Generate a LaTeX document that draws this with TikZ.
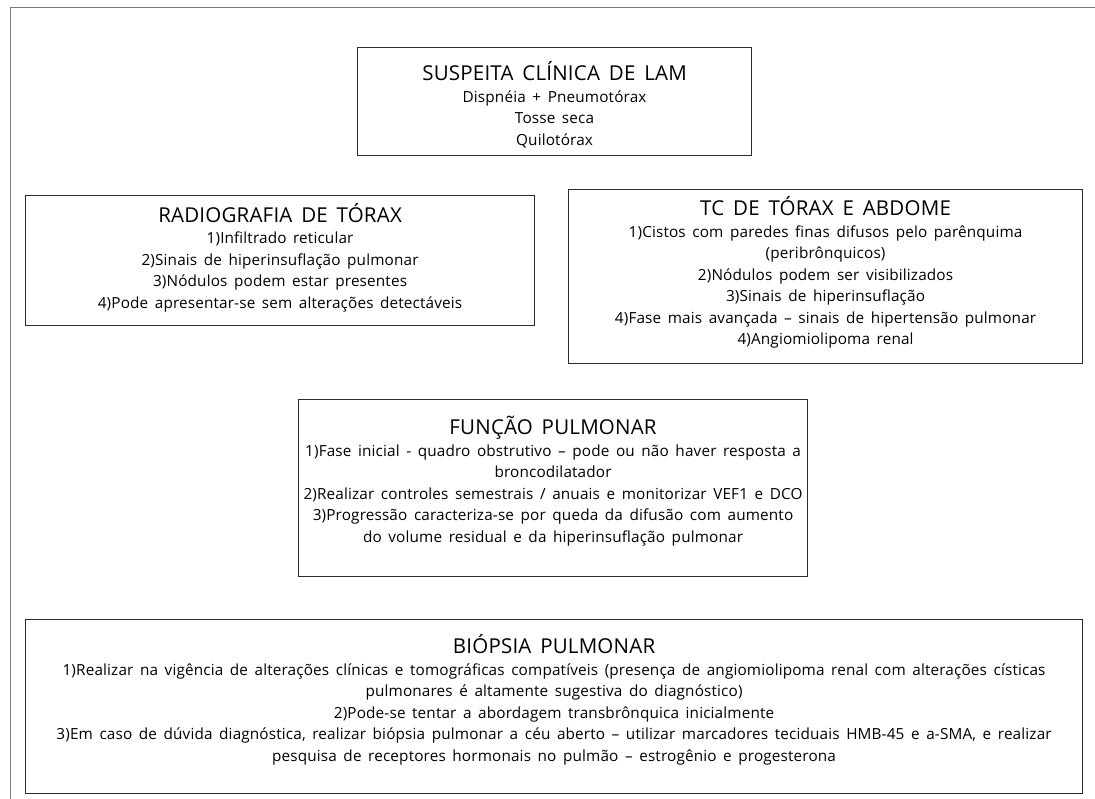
\documentclass[tikz,border=0pt]{standalone}
\usepackage{fontspec}
\setmainfont{Open Sans}[WordSpace=1.6, LetterSpace=1]
\usetikzlibrary{positioning}
\definecolor{FrameGray}{RGB}{125,125,125}
\definecolor{BoxGray}{RGB}{45,45,45}

\newcommand{\boxhead}[1]{{\fontsize{20.5}{24}\selectfont #1}}

\begin{document}
\begin{tikzpicture}[x=1pt, y=-1pt,
    boxframe/.style={draw=BoxGray, line width=1.1pt, anchor=north west, inner sep=0pt},
    boxtext/.style={align=center, inner sep=0pt, font=\fontsize{15.3}{21.5}\selectfont}]
    % Page size
    \useasboundingbox (0,0) rectangle (1095,799);

    % Page frame (left and top only)
    \draw[FrameGray, line width=1pt] (10,799) -- (10,8) -- (1095,8);

    % Frames of the five boxes
    \node[boxframe, minimum width=394, minimum height=108] (suspeita) at (357,47) {};
    \node[boxframe, minimum width=509, minimum height=130] (radiografia) at (25,195) {};
    \node[boxframe, minimum width=514, minimum height=174] (tomografia) at (568,189) {};
    \node[boxframe, minimum width=509, minimum height=177] (funcao) at (298,399) {};
    \node[boxframe, minimum width=1057, minimum height=174] (biopsia) at (25,619) {};

    % Clinical suspicion
    \node[boxtext, yshift=-3pt] (suspeita text) at (suspeita.center)
        {\boxhead{SUSPEITA CLÍNICA DE LAM}\\
         Dispnéia + Pneumotórax\\
         Tosse seca\\
         Quilotórax};

    % Chest x-ray
    \node[boxtext, yshift=3pt] (radiografia text) at (radiografia.center)
        {\boxhead{RADIOGRAFIA DE TÓRAX}\\
         1)Infiltrado reticular\\
         2)Sinais de hiperinsuflação pulmonar\\
         3)Nódulos podem estar presentes\\
         4)Pode apresentar-se sem alterações detectáveis};

    % CT of chest and abdomen
    \node[boxtext, yshift=4pt] (tomografia text) at (tomografia.center)
        {\boxhead{TC DE TÓRAX E ABDOME}\\
         1)Cistos com paredes finas difusos pelo parênquima\\
         (peribrônquicos)\\
         2)Nódulos podem ser visibilizados\\
         3)Sinais de hiperinsuflação\\
         4)Fase mais avançada – sinais de hipertensão pulmonar\\
         4)Angiomiolipoma renal};

    % Lung function
    \node[boxtext, yshift=7pt] (funcao text) at (funcao.center)
        {\boxhead{FUNÇÃO PULMONAR}\\
         1)Fase inicial - quadro obstrutivo – pode ou não haver resposta a\\
         broncodilatador\\
         2)Realizar controles semestrais / anuais e monitorizar VEF1 e DCO\\
         3)Progressão caracteriza-se por queda da difusão com aumento\\
         do volume residual e da hiperinsuflação pulmonar};

    % Lung biopsy
    \node[boxtext, yshift=7pt] (biopsia text) at (biopsia.center)
        {\boxhead{BIÓPSIA PULMONAR}\\
         1)Realizar na vigência de alterações clínicas e tomográficas compatíveis (presença de angiomiolipoma renal com alterações císticas\\
         pulmonares é altamente sugestiva do diagnóstico)\\
         2)Pode-se tentar a abordagem transbrônquica inicialmente\\
         3)Em caso de dúvida diagnóstica, realizar biópsia pulmonar a céu aberto – utilizar marcadores teciduais HMB-45 e a-SMA, e realizar\\
         pesquisa de receptores hormonais no pulmão – estrogênio e progesterona};
\end{tikzpicture}
\end{document}
